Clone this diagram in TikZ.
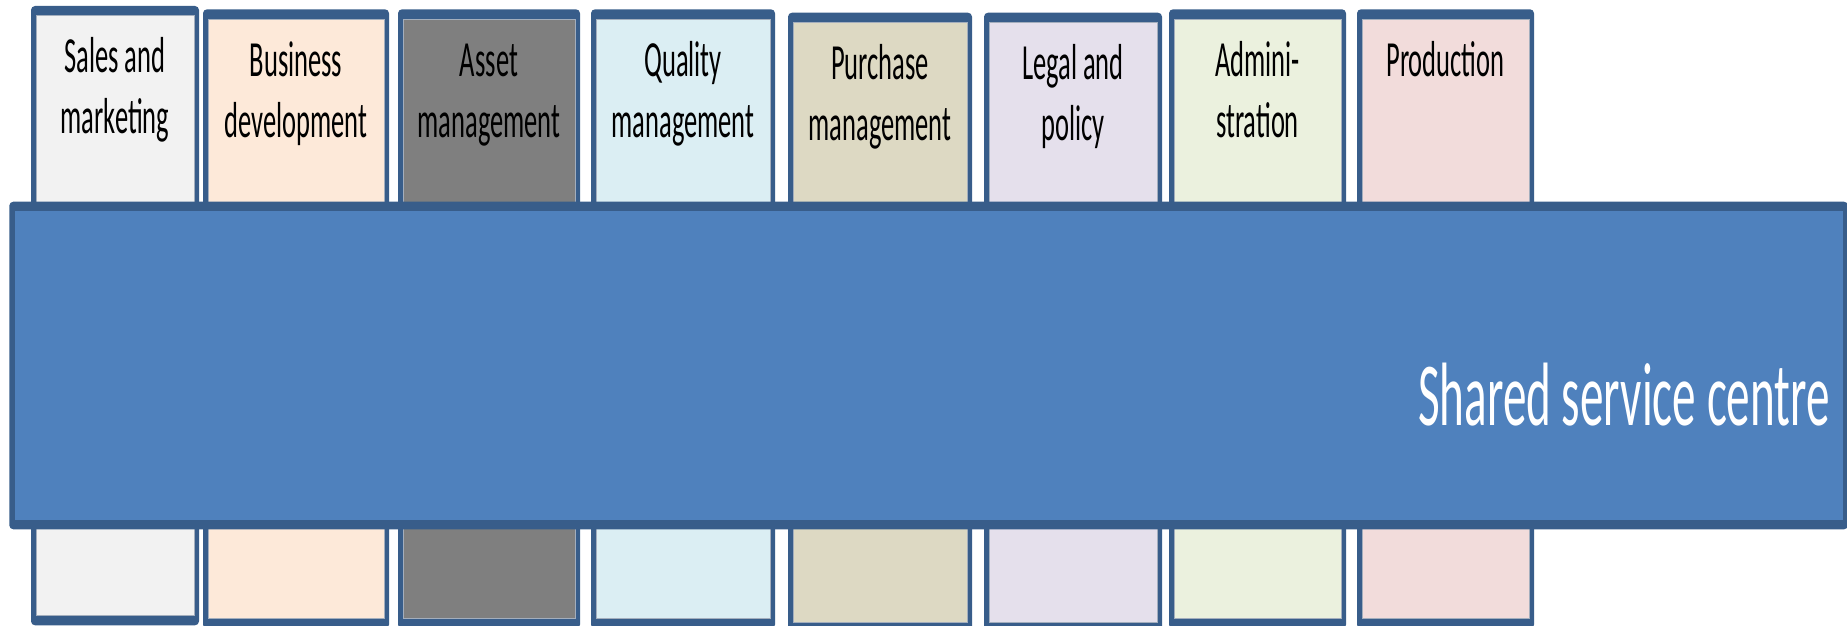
\documentclass[tikz,border=0pt]{standalone}
\usepackage{fontspec}
\setmainfont{Carlito}[FakeStretch=0.524]
\definecolor{bordercol}{HTML}{385D8A}
\definecolor{barcol}{HTML}{4F81BD}
\definecolor{innerline}{HTML}{A3AEBD}
\definecolor{cSales}{HTML}{F2F2F2}
\definecolor{cBus}{HTML}{FDE9D9}
\definecolor{cAsset}{HTML}{7F7F7F}
\definecolor{cQual}{HTML}{DBEEF3}
\definecolor{cPurch}{HTML}{DDD9C3}
\definecolor{cLegal}{HTML}{E5E0EC}
\definecolor{cAdmin}{HTML}{EBF1DE}
\definecolor{cProd}{HTML}{F2DCDB}
\tikzset{
  lbl/.style={anchor=north, inner sep=0pt, align=center, text=black,
    font=\fontsize{50.6}{61}\selectfont},
  bigtxt/.style={anchor=base east, inner sep=0pt, text=white,
    font=\fontsize{90}{100}\selectfont},
  outerbox/.style={fill=bordercol, rounded corners=4pt},
  innerbox/.style={draw=innerline, line width=1pt},
}
% #1 name, #2 left, #3 right, #4 top, #5 fill colour, #6 text
\newcommand\deptbox[6]{%
  \fill[outerbox] (#2,#4) rectangle (#3,#4+619.3);
  \filldraw[innerbox, fill=#5] (#2+5,#4+10) rectangle (#3-5,#4+609.3);
  \node[lbl] (#1) at ({(#2+#3)/2},#4+66.7-42.7) {\strut #6};
}
\begin{document}
\begin{tikzpicture}[x=1pt,y=-1pt]
\useasboundingbox (0,0) rectangle (1847,626);
\clip (0,0) rectangle (1847,626);
\deptbox{sales}{31}{199}{6}{cSales}{Sales and\\marketing}
\deptbox{bus}{203}{389}{9.3}{cBus}{Business\\development}
\deptbox{asset}{398}{580}{9.3}{cAsset}{Asset\\management}
\deptbox{qual}{591}{775}{9.3}{cQual}{Quality\\management}
\deptbox{purch}{788}{972}{12.7}{cPurch}{Purchase\\management}
\deptbox{legal}{984}{1162}{12.7}{cLegal}{Legal and\\policy}
\deptbox{admin}{1169}{1346}{9.3}{cAdmin}{Admini-\\stration}
\deptbox{prod}{1357}{1534}{9.3}{cProd}{Production}
% shared service bar
\fill[outerbox] (9.3,201.7) rectangle (1848,529.3);
\fill[barcol] (15,210.7) rectangle (1843,520);
\node[bigtxt] (ssc) at (1830,425) {Shared service centre};
\end{tikzpicture}
\end{document}
